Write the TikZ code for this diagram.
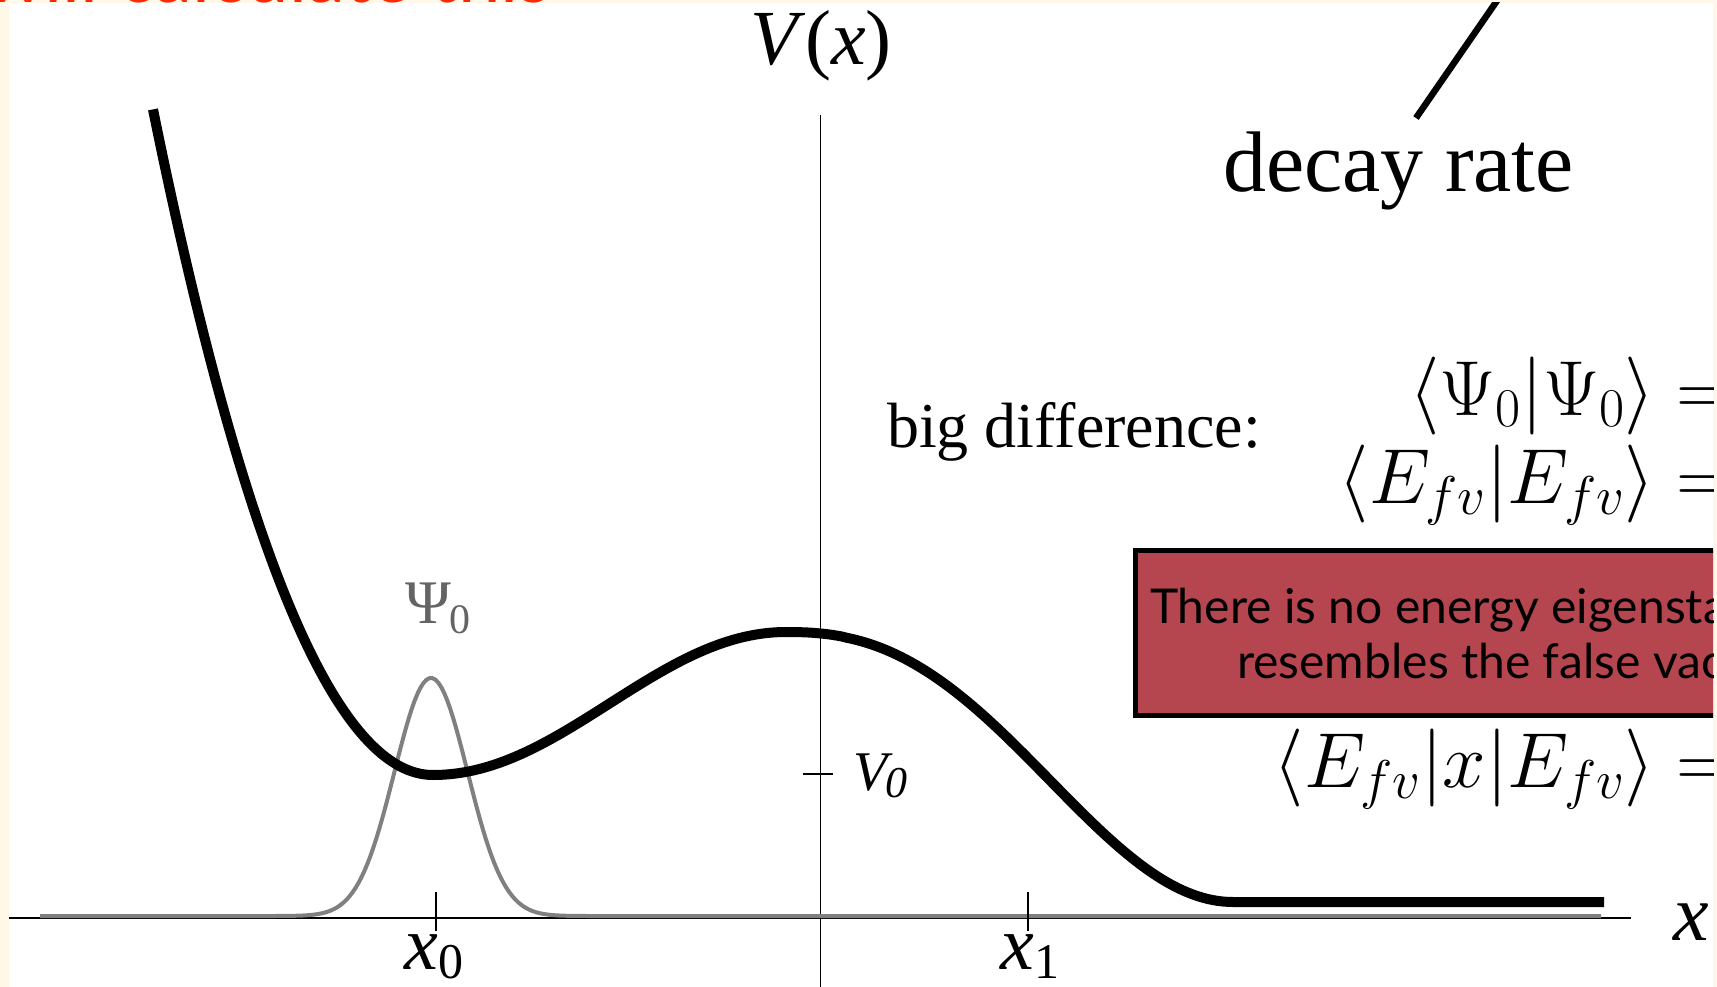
\RequirePackage{fix-cm}
\documentclass[tikz,border=0pt]{standalone}
\usepackage[no-math]{fontspec}
\setmainfont{Liberation Serif}
\newfontfamily\boxfont{Lato}
\definecolor{cream}{RGB}{255,248,233}
\definecolor{boxred}{RGB}{181,70,80}
\definecolor{titlered}{RGB}{255,40,0}
\definecolor{wavegray}{RGB}{128,128,128}
\definecolor{labelgray}{RGB}{100,100,100}
\tikzset{
  pot/.style={line width=10pt, black, line join=round},
  wave/.style={line width=4pt, wavegray, line join=round},
  axisline/.style={line width=1.3pt, black},
  tickmark/.style={line width=2.5pt, black},
  lbl/.style={inner sep=0pt, outer sep=0pt},
}
\begin{document}
\begin{tikzpicture}[x=1pt,y=-1pt]
\useasboundingbox (0,0) rectangle (1717,987);
\fill[cream] (0,0) rectangle (1717,987);
\fill[white] (9,3) rectangle (1713,987);
\begin{scope}
\clip (9,3) rectangle (1713,987);
% axes
\coordinate (xl) at (9,918);
\coordinate (xr) at (1631,918);
\coordinate (yt) at (820.5,115);
\coordinate (yb) at (820.5,990);
\draw[axisline] (xl) -- (xr);
\draw[axisline] (yt) -- (yb);
% gaussian
\draw[wave] (40,916) -- (211,916)
  -- plot[domain=211:651, samples=150] (\x, {916 - 238*exp(-0.5*((\x-431)/36.5)^2)})
  -- (1601,916);
% potential
\draw[pot]
  plot[domain=153:433, samples=90] (\x, {775 - 0.79*((433-\x)/10)^2 - 0.0021*((433-\x)/10)*((433-\x)/10)*((433-\x)/10)})
  -- plot[domain=433:786, samples=70] (\x, {703.5 + 71.5*cos(((\x-433)/353)*180)})
  -- plot[domain=786.5:1233, samples=90] (\x, {632 + 135*(1 - cos(180*((\x-786)/447)^1.2))})
  -- (1604,902);
% ticks
\coordinate (t0a) at (436,892); \coordinate (t0b) at (436,931);
\coordinate (t1a) at (1028,892); \coordinate (t1b) at (1028,931);
\coordinate (v0a) at (803,774); \coordinate (v0b) at (833,774);
\draw[tickmark] (t0a) -- (t0b);
\draw[tickmark] (t1a) -- (t1b);
\draw[tickmark] (v0a) -- (v0b);
% labels
\node[lbl, anchor=base] (Vx) at (821,65) {\fontsize{78}{80}\selectfont\itshape V\/\upshape(\itshape x\/\upshape)};
\node[lbl, anchor=base west] (xlab) at (1673,940) {\fontsize{80}{80}\selectfont\itshape x};
\node[lbl, anchor=base] (x0) at (434,969) {\fontsize{76}{78}\selectfont\itshape x\/\upshape\raisebox{-9pt}{\fontsize{50}{50}\selectfont 0}};
\node[lbl, anchor=base] (x1) at (1030,969) {\fontsize{76}{78}\selectfont\itshape x\/\upshape\raisebox{-9pt}{\fontsize{50}{50}\selectfont 1}};
\node[lbl, anchor=base west] (V0) at (853,790) {\fontsize{56}{56}\selectfont\itshape V\kern-2pt\raisebox{-7pt}{\fontsize{44}{44}\selectfont 0}};
\node[lbl, anchor=base west, text=labelgray] (Psi0) at (405,623) {\fontsize{62}{62}\selectfont\char"03A8\kern-1pt\raisebox{-10pt}{\fontsize{42}{42}\selectfont 0}};
% decay rate
\node[lbl, anchor=base west] (decay) at (1223,192) {\fontsize{86}{86}\selectfont decay rate};
\coordinate (dtop) at (1503,-8);
\draw[line width=6.5pt] (1416,118) -- (dtop);
% big difference
\node[lbl, anchor=base west] (bigd) at (887,447) {\fontsize{64}{64}\selectfont big difference:};
\node[lbl, anchor=base east] (eq1) at (1733,415) {\fontsize{78}{78}\selectfont $\langle\Psi_0|\Psi_0\rangle =$};
\node[lbl, anchor=base east] (eq2) at (1733,503) {\fontsize{78}{78}\selectfont $\langle E_{fv}|E_{fv}\rangle =$};
\node[lbl, anchor=base east] (eq3) at (1733,787) {\fontsize{78}{78}\selectfont $\langle E_{fv}|x|E_{fv}\rangle =$};
% red box
\draw[line width=5pt, fill=boxred] (1135.5,550.5) rectangle (1745,715.5);
\node[lbl, anchor=base west] (box1) at (1150,623) {\boxfont\fontsize{48}{48}\selectfont There is no energy eigensta};
\node[lbl, anchor=base west] (box2) at (1237,678) {\boxfont\fontsize{48}{48}\selectfont resembles the false vacu};
\end{scope}
\node[lbl, anchor=base west, text=titlered] (title) at (-15,3) {\boxfont\fontsize{76}{76}\selectfont will calculate this};
\end{tikzpicture}
\end{document}
